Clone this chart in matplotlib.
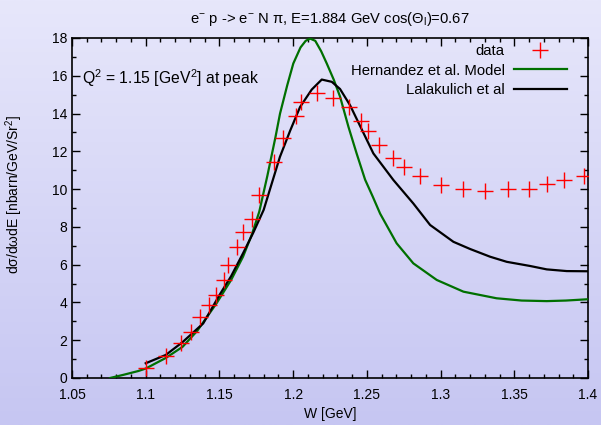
import numpy as np
import matplotlib
matplotlib.use('Agg')
import matplotlib.pyplot as plt
from matplotlib.ticker import MultipleLocator

plt.rcParams['font.family'] = ['Liberation Sans', 'DejaVu Sans']
plt.rcParams['mathtext.fontset'] = 'custom'
plt.rcParams['mathtext.rm'] = 'Liberation Sans'
plt.rcParams['mathtext.it'] = 'Liberation Sans'
plt.rcParams['mathtext.bf'] = 'Liberation Sans'

# data points
w_data = [1.100, 1.114, 1.124, 1.131, 1.137, 1.143, 1.148, 1.153, 1.156, 1.162,
          1.166, 1.172, 1.177, 1.187, 1.193, 1.202, 1.205, 1.216, 1.227, 1.238,
          1.246, 1.251, 1.258, 1.268, 1.275, 1.286, 1.300, 1.315, 1.330, 1.346,
          1.360, 1.372, 1.384, 1.397]
xs_data = [0.51, 1.16, 1.83, 2.45, 3.24, 3.86, 4.39, 5.19, 5.98, 6.95,
           7.71, 8.40, 9.68, 11.41, 12.68, 13.86, 14.62, 15.10, 14.80, 14.35,
           13.60, 13.05, 12.33, 11.66, 11.18, 10.69, 10.21, 9.98, 9.89, 10.03,
           10.03, 10.26, 10.48, 10.70]

# Hernandez et al. model
w_hern = [1.0758, 1.085, 1.095, 1.100, 1.1136, 1.125, 1.135, 1.148, 1.158, 1.166,
          1.172, 1.177, 1.1825, 1.188, 1.1911, 1.196, 1.2001, 1.205, 1.2085, 1.2115,
          1.215, 1.219, 1.2228, 1.2275, 1.2318, 1.2375, 1.243, 1.2488, 1.254, 1.259,
          1.2702, 1.2815, 1.2974, 1.3155, 1.338, 1.355, 1.372, 1.385, 1.398, 1.400]
xs_hern = [0.0, 0.17, 0.37, 0.50, 1.06, 1.65, 2.50, 3.95, 5.20, 6.42,
           7.60, 8.80, 10.70, 12.75, 14.00, 15.50, 16.65, 17.50, 17.85, 17.97,
           17.85, 17.30, 16.65, 15.80, 14.90, 13.30, 11.90, 10.50, 9.60, 8.70,
           7.13, 6.07, 5.19, 4.57, 4.22, 4.10, 4.07, 4.10, 4.16, 4.17]

# Lalakulich et al
w_lala = [1.100, 1.1136, 1.125, 1.139, 1.150, 1.158, 1.166, 1.173, 1.180, 1.1855,
          1.191, 1.198, 1.2047, 1.2126, 1.2194, 1.2262, 1.2318, 1.2386, 1.2544, 1.268,
          1.2815, 1.2929, 1.3087, 1.320, 1.3336, 1.3449, 1.3607, 1.372, 1.3856, 1.400]
xs_lala = [0.78, 1.22, 1.90, 2.89, 4.39, 5.40, 6.60, 7.70, 8.90, 10.30,
           11.70, 13.10, 14.35, 15.27, 15.80, 15.68, 15.30, 14.44, 11.89, 10.48,
           9.24, 8.10, 7.21, 6.83, 6.42, 6.15, 5.93, 5.75, 5.66, 5.65]

fig = plt.figure(figsize=(6.01, 4.25), dpi=100)

# gradient background
bg = fig.add_axes([0, 0, 1, 1], zorder=-10)
top = np.array([231, 231, 251]) / 255.0
bot = np.array([198, 198, 242]) / 255.0
t = np.linspace(0, 1, 256)[:, None]
grad = (top[None, :] * (1 - t) + bot[None, :] * t)[:, None, :]
bg.imshow(grad, aspect='auto', extent=[0, 1, 0, 1])
bg.axis('off')

ax = fig.add_axes([0.1198, 0.1106, 0.8586, 0.8])
ax.patch.set_alpha(0)

ax.plot(w_data, xs_data, '+', color='#ff0000', markersize=11, markeredgewidth=1.0,
        label='data', zorder=4)
ax.plot(w_hern, xs_hern, '-', color='#007000', linewidth=1.6,
        label='Hernandez et al. Model', zorder=3)
ax.plot(w_lala, xs_lala, '-', color='black', linewidth=1.6,
        label='Lalakulich et al', zorder=3)

ax.set_xlim(1.05, 1.4)
ax.set_ylim(0, 18)
ax.xaxis.set_major_locator(MultipleLocator(0.05))
ax.xaxis.set_minor_locator(MultipleLocator(0.01))
ax.yaxis.set_major_locator(MultipleLocator(2))
ax.yaxis.set_minor_locator(MultipleLocator(1))
ax.xaxis.set_major_formatter(plt.FuncFormatter(lambda v, p: ('%.2f' % v).rstrip('0').rstrip('.')))
ax.tick_params(which='both', direction='in', top=True, right=True, labelsize=10)
ax.tick_params(which='major', length=6, width=1)
ax.tick_params(which='minor', length=3, width=1)
ax.tick_params(axis='x', pad=7)
for s in ax.spines.values():
    s.set_linewidth(1.2)

ax.set_xlabel('W [GeV]', fontsize=10, labelpad=4)
ax.set_ylabel(r'd$\sigma$/d$\omega$dE [nbarn/GeV/Sr$^2$]', fontsize=10)
ax.yaxis.set_label_coords(-0.091, 0.54)
ax.set_title(r'e$^{-}$ p -> e$^{-}$ N $\pi$, E=1.884 GeV cos($\Theta_l$)=0.67',
             fontsize=10.6, pad=11)

ax.text(1.0568, 15.9, r'Q$^2$ = 1.15 [GeV$^2$] at peak', fontsize=11.3, va='center')

leg = ax.legend(loc='upper right', frameon=False, markerfirst=False, fontsize=10.7,
                handlelength=3.6, handletextpad=0.6, labelspacing=0.37,
                borderaxespad=0, borderpad=0, bbox_to_anchor=(0.9593, 0.982))
leg._legend_box.align = 'right'

fig.savefig('out.png', dpi=100)
